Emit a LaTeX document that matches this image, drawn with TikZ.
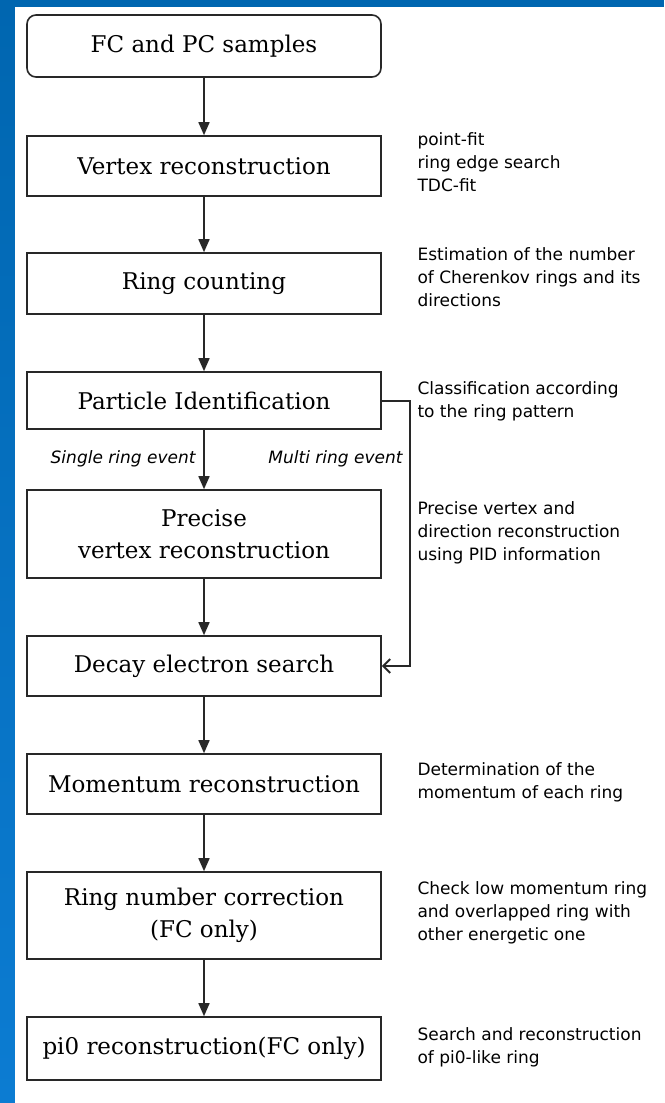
\documentclass[tikz,border=0pt]{standalone}
\usepackage{fontspec}
\setmainfont{DejaVu Serif}
\setsansfont{DejaVu Sans}
\usetikzlibrary{arrows.meta}

\definecolor{slideblue}{RGB}{0,102,176}
\definecolor{slidelight}{RGB}{12,124,210}
\definecolor{edgegray}{RGB}{40,40,40}

\begin{document}
\begin{tikzpicture}[x=1pt, y=-1pt, >={Triangle[width=11pt,length=13pt]},
	stage/.style={draw=edgegray, line width=1.6pt, fill=white, minimum width=354pt,
		minimum height=#1, align=center, font=\fontsize{23}{32}\selectfont},
	stage/.default=60pt,
	flow/.style={line width=1.6pt, draw=edgegray, ->},
	note/.style={anchor=west, align=left, font=\sffamily\fontsize{17}{23}\selectfont},
	branch/.style={anchor=east, font=\sffamily\itshape\fontsize{17}{20}\selectfont}]
	
	% Slide background with the blue frame
	\useasboundingbox (0,0) rectangle (664,1103);
	\fill[slideblue] (0,0) rectangle (664,1103);
	\shade[top color=slideblue, bottom color=slidelight] (0,0) rectangle (15,1103);
	\fill[white] (15,7) rectangle (664,1103);
	
	% Reconstruction stages
	\node[stage=62pt, rounded corners=9pt] (samples) at (204,46) {FC and PC samples};
	\node[stage] (vertex) at (204,166) {Vertex reconstruction};
	\node[stage=61pt] (rings) at (204,283.5) {Ring counting};
	\node[stage=57pt] (pid) at (204,400.5) {Particle Identification};
	\node[stage=88pt] (precise) at (204,534) {Precise\\vertex reconstruction};
	\node[stage] (decay) at (204,666) {Decay electron search};
	\node[stage] (momentum) at (204,784) {Momentum reconstruction};
	\node[stage=87pt] (ringfix) at (204,915.5) {Ring number correction\\(FC only)};
	\node[stage=63pt] (pizero) at (204,1048.5) {pi0 reconstruction(FC only)};
	
	% Main flow
	\foreach \a/\b in {samples/vertex, vertex/rings, rings/pid, pid/precise,
		precise/decay, decay/momentum, momentum/ringfix, ringfix/pizero}{
		\draw[flow] (\a.south) -- (\b.north);
	}
	
	% Multi ring events skip the precise fit
	\draw[line width=2pt, draw=edgegray, -{Straight Barb[width=14pt,length=7pt]}]
		(pid.east) -- ++(28.5,0) |- (decay.east);
	\node[branch] (single) at (199,459) {Single ring event};
	\node[branch] (multi) at (406,459) {Multi ring event};
	
	% Comments on each stage
	\node[note] (vertexnote) at (414,162) {point-fit\\ring edge search\\TDC-fit};
	\node[note] (ringsnote) at (414,277) {Estimation of the number\\of Cherenkov rings and its\\directions};
	\node[note] (pidnote) at (414,401) {Classification according\\to the ring pattern};
	\node[note] (precisenote) at (414,533) {Precise vertex and\\direction reconstruction\\using PID information};
	\node[note] (momentumnote) at (414,782) {Determination of the\\momentum of each ring};
	\node[note] (ringfixnote) at (414,913) {Check low momentum ring\\and overlapped ring with\\other energetic one};
	\node[note] (pizeronote) at (414,1047) {Search and reconstruction\\of pi0-like ring};
	
\end{tikzpicture}
\end{document}
